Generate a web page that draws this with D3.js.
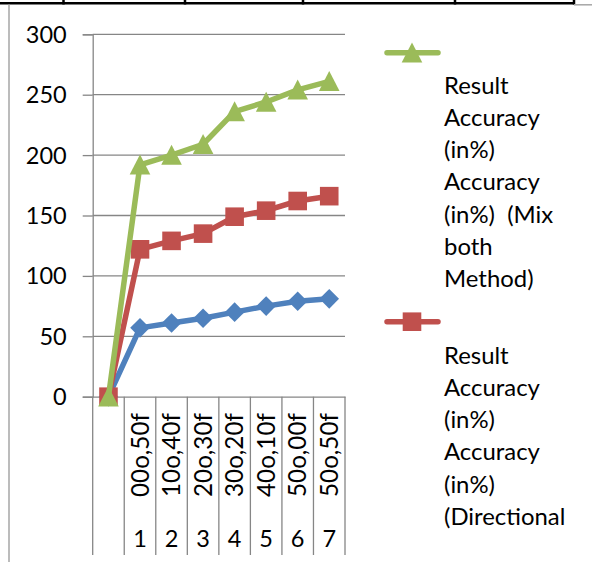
<!DOCTYPE html>
<html><head><meta charset="utf-8">
<script src="https://cdn.jsdelivr.net/npm/d3@7/dist/d3.min.js"></script>
<style>
body{margin:0;background:#fff}
svg{display:block}
text{font-family:Lato,"Open Sans",sans-serif;fill:#000}
</style>
</head><body>
<svg id="c" width="592" height="562"></svg>
<script>
// ---- data ----
const categories = ["", "00o,50f", "10o,40f", "20o,30f", "30o,20f", "40o,10f", "50o,00f", "50o,50f"];
const groupLabels = ["", "1", "2", "3", "4", "5", "6", "7"];
const blueValues  = [0, 57, 61, 65, 70, 75, 79, 81];
const redValues   = [0, 122, 129, 135, 149, 154, 162, 166];
const greenValues = [0, 192, 200, 209, 236, 244, 254, 261];
const yTicks = [0, 50, 100, 150, 200, 250, 300];
const legendGreenLines = ["Result", "Accuracy", "(in%)", "Accuracy", "(in%)  (Mix", "both", "Method)"];
const legendRedLines   = ["Result", "Accuracy", "(in%)", "Accuracy", "(in%)", "(Directional"];

const W = 592, H = 562;
const svg = d3.select("#c");
const grid = "#868686";
const FS = 23.5;
const RFS = 24.2;
const LFS = 23.9;

// ---- page table border ----
svg.append("line").attr("x1", 0).attr("x2", 574).attr("y1", 3.3).attr("y2", 3.3)
  .attr("stroke", "#000").attr("stroke-width", 2.5);
[63.5, 185, 303, 455, 574].forEach(x =>
  svg.append("line").attr("x1", x).attr("x2", x).attr("y1", 0).attr("y2", 4.5)
    .attr("stroke", "#000").attr("stroke-width", 2.5));
svg.append("line").attr("x1", 574).attr("x2", W).attr("y1", 4.8).attr("y2", 4.8)
  .attr("stroke", "#a6a6a6").attr("stroke-width", 1.5);
svg.append("line").attr("x1", 9).attr("x2", 9).attr("y1", 4.5).attr("y2", H)
  .attr("stroke", "#a6a6a6").attr("stroke-width", 1.5);

// ---- scales ----
const plotL = 92.7, plotR = 345, plotT = 34.3, plotB = 396.7;
const x = d3.scaleBand().domain(d3.range(categories.length)).range([plotL, plotR]).padding(0);
const y = d3.scaleLinear().domain([0, 300]).range([plotB, plotT]);
const cx = i => x(i) + x.bandwidth() / 2;

// gridlines
svg.append("g").selectAll("line").data(yTicks.filter(d => d > 0)).join("line")
  .attr("x1", plotL).attr("x2", plotR)
  .attr("y1", d => y(d)).attr("y2", d => y(d))
  .attr("stroke", grid).attr("stroke-width", 1.3);

// y axis
const yAxis = svg.append("g").attr("transform", `translate(${plotL},0)`)
  .call(d3.axisLeft(y).tickValues(yTicks).tickSize(10).tickPadding(16));
yAxis.select(".domain").attr("stroke", grid).attr("stroke-width", 1.3);
yAxis.selectAll(".tick line").attr("stroke", grid).attr("stroke-width", 1.3);
yAxis.selectAll(".tick text").attr("font-size", FS).attr("font-family", "Lato").attr("fill", "#000").attr("dy", "0.34em");

// x axis
const xAxis = svg.append("g").attr("transform", `translate(0,${plotB})`)
  .call(d3.axisBottom(x).tickSize(0).tickFormat(""));
xAxis.select(".domain").attr("stroke", grid).attr("stroke-width", 1.3);

// category separators (multi-level axis)
const bounds = d3.range(categories.length + 1).map(i => plotL + i * x.step());
svg.append("g").selectAll("line").data(bounds).join("line")
  .attr("x1", d => d).attr("x2", d => d)
  .attr("y1", plotB).attr("y2", 555)
  .attr("stroke", grid).attr("stroke-width", 1.3);

// rotated level-1 labels
svg.append("g").selectAll("text").data(categories).join("text")
  .attr("transform", (d, i) => `translate(${cx(i) + 8.5},455) rotate(-90)`)
  .attr("text-anchor", "middle").attr("font-size", RFS)
  .text(d => d);

// level-2 labels
svg.append("g").selectAll("text").data(groupLabels).join("text")
  .attr("x", (d, i) => cx(i)).attr("y", 546.7)
  .attr("text-anchor", "middle").attr("font-size", FS)
  .text(d => d);

// ---- series ----
const series = [
  {values: blueValues, color: "#4F81BD", shape: "diamond"},
  {values: redValues, color: "#C0504D", shape: "square"},
  {values: greenValues, color: "#9BBB59", shape: "triangle"}
];
const line = d3.line().x((d, i) => cx(i)).y(d => y(d));
function markerPath(shape) {
  if (shape === "diamond") return "M0,-9.8L9.8,0L0,9.8L-9.8,0Z";
  if (shape === "square") return "M-9.3,-9.3H9.3V9.3H-9.3Z";
  return "M0,-10.3L10.3,9.7L-10.3,9.7Z";
}
series.forEach(s => {
  const g = svg.append("g");
  g.append("path").datum(s.values).attr("d", line)
    .attr("fill", "none").attr("stroke", s.color).attr("stroke-width", 5.5)
    .attr("stroke-linejoin", "round").attr("stroke-linecap", "round");
  g.selectAll("path.m").data(s.values).join("path").attr("class", "m")
    .attr("transform", (d, i) => `translate(${cx(i)},${y(d)})`)
    .attr("d", markerPath(s.shape)).attr("fill", s.color);
});

// ---- legend ----
function legendEntry(lineY, textY0, color, shape, lines) {
  const g = svg.append("g");
  g.append("line").attr("x1", 387).attr("x2", 438).attr("y1", lineY).attr("y2", lineY)
    .attr("stroke", color).attr("stroke-width", 5.5).attr("stroke-linecap", "round");
  g.append("path").attr("transform", `translate(412,${lineY})`).attr("d", markerPath(shape)).attr("fill", color);
  g.selectAll("text").data(lines).join("text")
    .attr("x", 444).attr("y", (d, i) => textY0 + i * 32.3 + 8.5)
    .attr("font-size", LFS).style("white-space", "pre")
    .text(d => d);
}
legendEntry(52.7, 85, "#9BBB59", "triangle", legendGreenLines);
legendEntry(321.7, 355, "#C0504D", "square", legendRedLines);
</script>
</body></html>
